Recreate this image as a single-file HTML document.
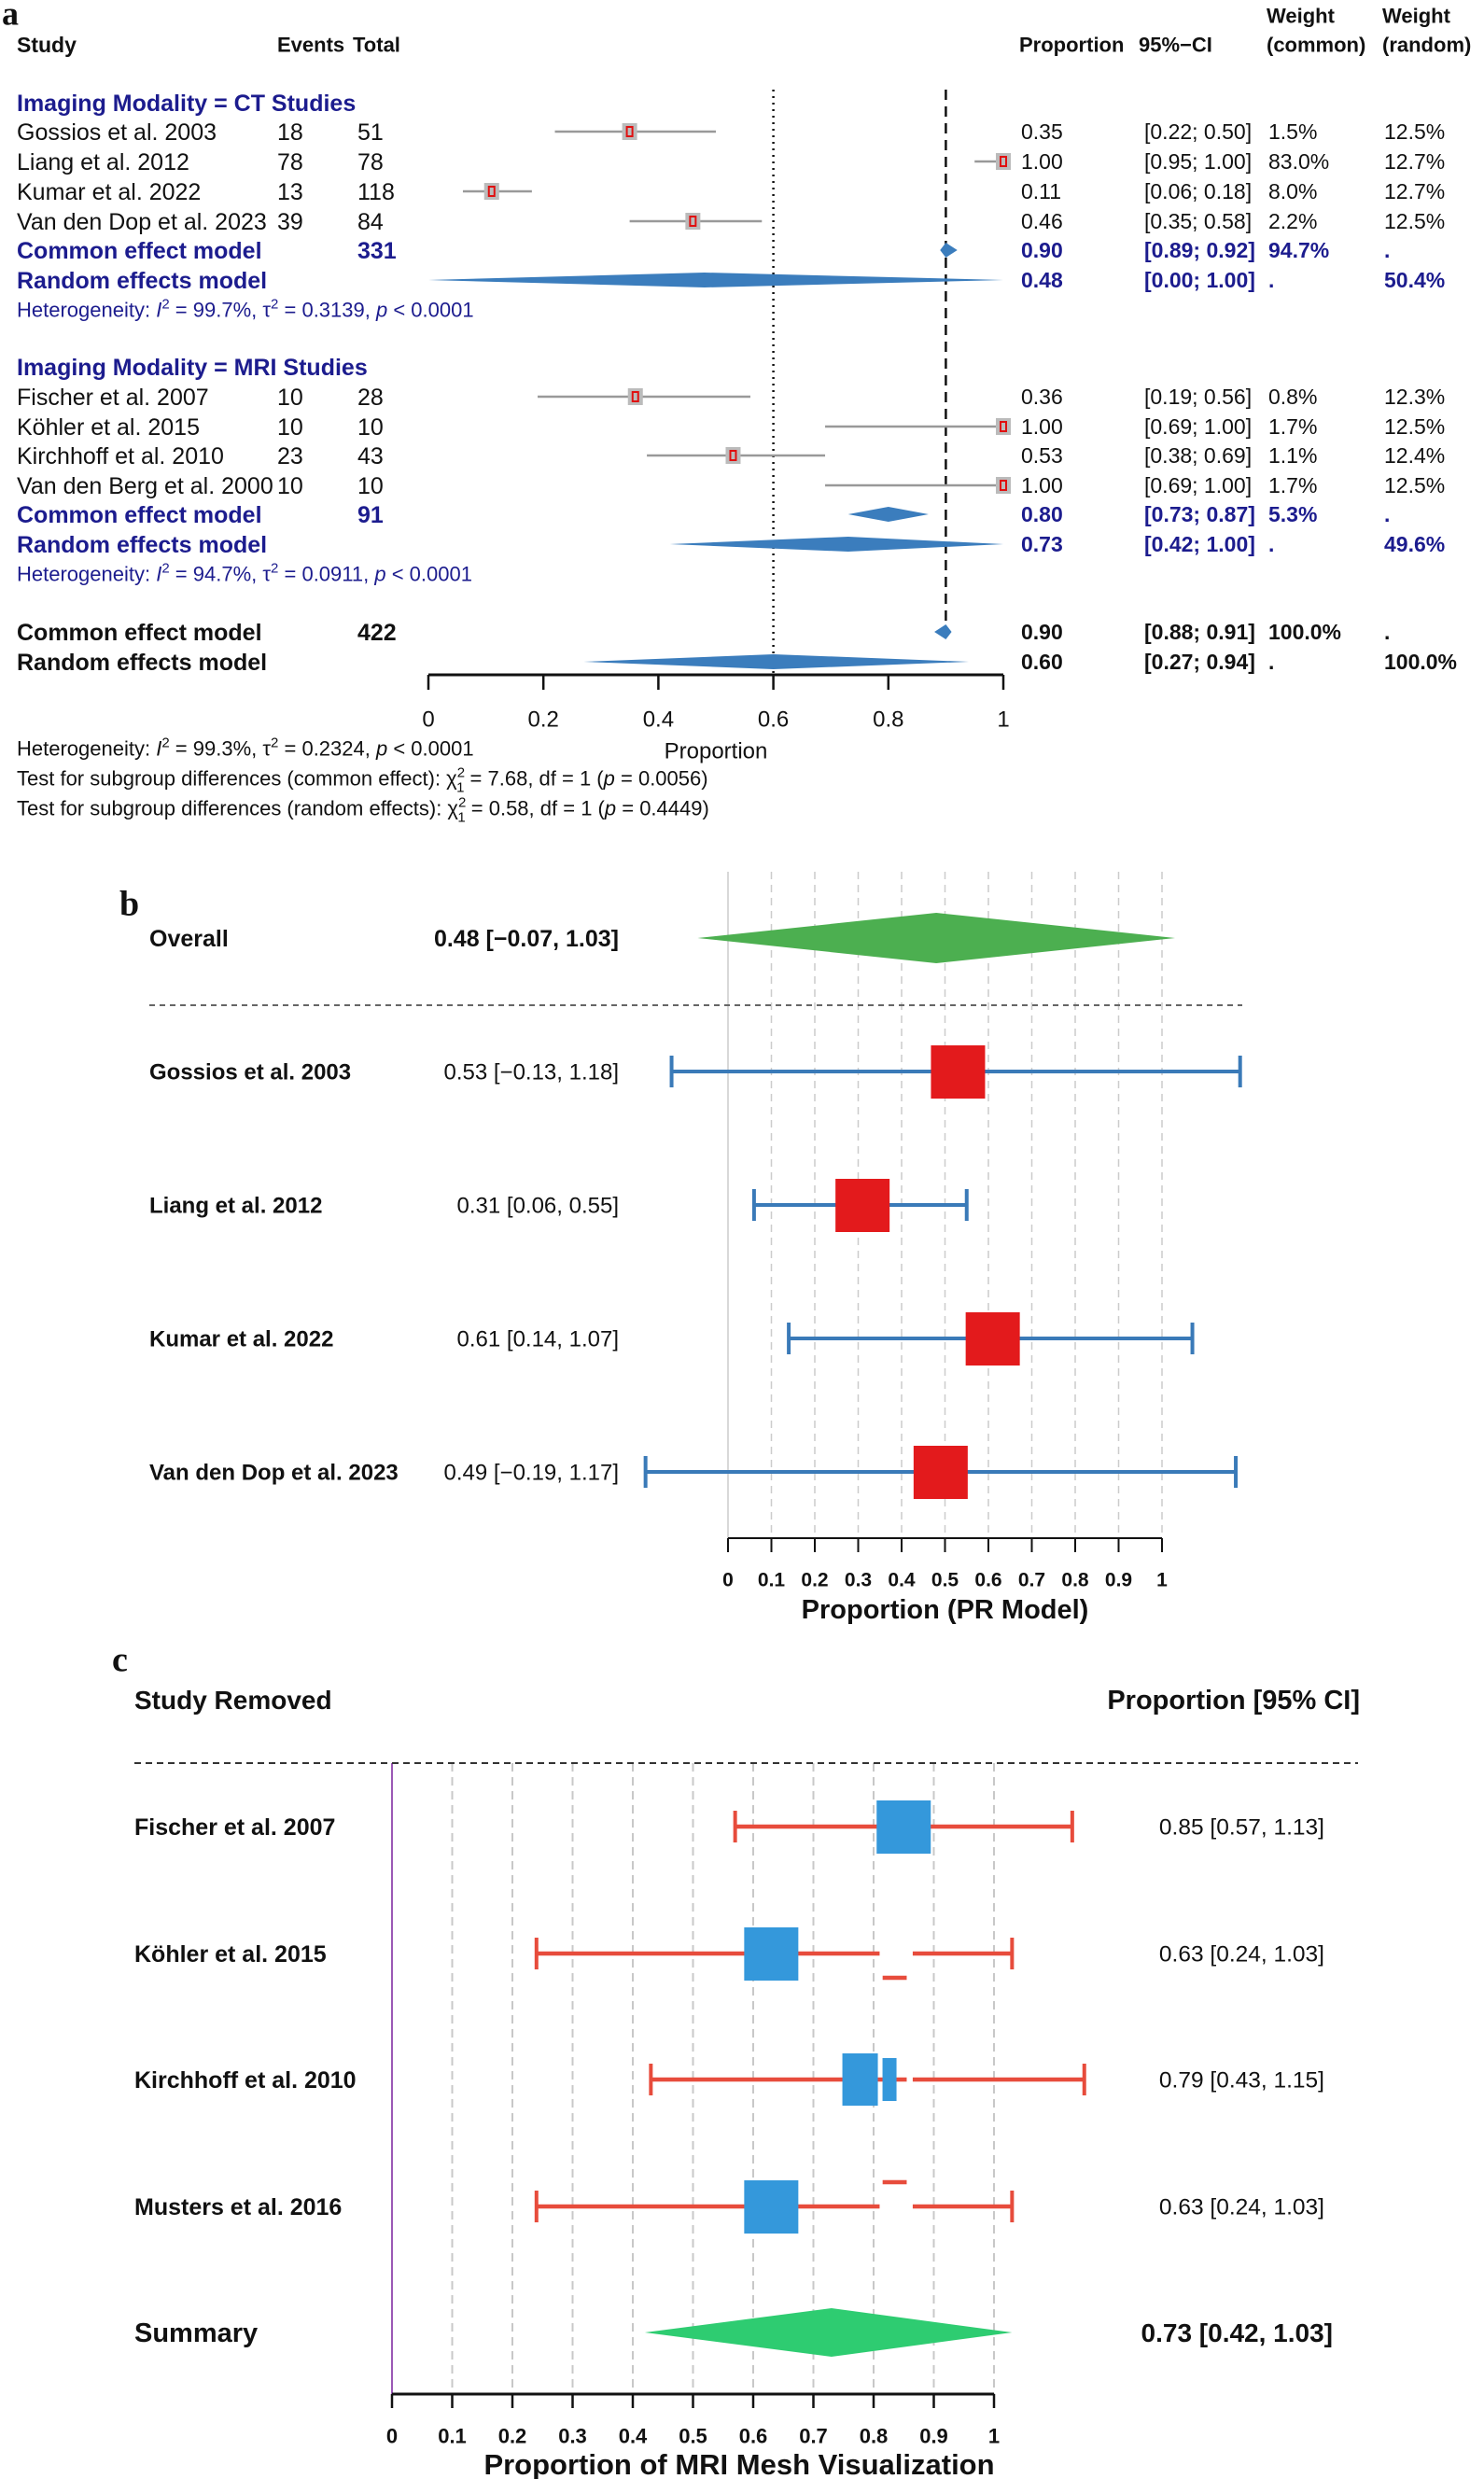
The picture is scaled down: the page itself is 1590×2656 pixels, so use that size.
<!DOCTYPE html>
<html><head><meta charset="utf-8"><style>
html,body{margin:0;padding:0;background:#fff}
svg{display:block;font-family:"Liberation Sans",Arial,sans-serif}
</style></head><body>
<svg id="fig" width="1590" height="2656" viewBox="0 0 1590 2656" xmlns="http://www.w3.org/2000/svg">
<rect width="1590" height="2656" fill="#fff"/>
<g id="pa"></g>
<g id="pb"></g>
<g id="pc"></g>
</svg>
<script>
// ---------- Panel A data ----------
const aLabels = ["Gossios et al. 2003","Liang et al. 2012","Kumar et al. 2022","Van den Dop et al. 2023","Fischer et al. 2007","Köhler et al. 2015","Kirchhoff et al. 2010","Van den Berg et al. 2000"];
const aEvents = [18,78,13,39,10,10,23,10];
const aTotals = [51,78,118,84,28,10,43,10];
const aEst = [0.35,1.00,0.11,0.46,0.36,1.00,0.53,1.00];
const aLo = [0.22,0.95,0.06,0.35,0.19,0.69,0.38,0.69];
const aHi = [0.50,1.00,0.18,0.58,0.56,1.00,0.69,1.00];
const aWc = ["1.5%","83.0%","8.0%","2.2%","0.8%","1.7%","1.1%","1.7%"];
const aWr = ["12.5%","12.7%","12.7%","12.5%","12.3%","12.5%","12.4%","12.5%"];
const aSumLabels = ["Common effect model","Random effects model","Common effect model","Random effects model","Common effect model","Random effects model"];
const aSumN = ["331","","91","","422",""];
const aSumEst = [0.90,0.48,0.80,0.73,0.90,0.60];
const aSumLo = [0.89,0.00,0.73,0.42,0.88,0.27];
const aSumHi = [0.92,1.00,0.87,1.00,0.91,0.94];
const aSumWc = ["94.7%",".","5.3%",".","100.0%","."];
const aSumWr = [".","50.4%",".","49.6%",".","100.0%"];
const aTicks = [0,0.2,0.4,0.6,0.8,1];
const aTickLabels = ["0","0.2","0.4","0.6","0.8","1"];
// ---------- Panel B data ----------
const bLabels = ["Gossios et al. 2003","Liang et al. 2012","Kumar et al. 2022","Van den Dop et al. 2023"];
const bEst = [0.53,0.31,0.61,0.49];
const bLo = [-0.13,0.06,0.14,-0.19];
const bHi = [1.18,0.55,1.07,1.17];
const bOverall = [0.48,-0.07,1.03];
const bTicks = [0,0.1,0.2,0.3,0.4,0.5,0.6,0.7,0.8,0.9,1];
const bTickLabels = ["0","0.1","0.2","0.3","0.4","0.5","0.6","0.7","0.8","0.9","1"];
// ---------- Panel C data ----------
const cLabels = ["Fischer et al. 2007","Köhler et al. 2015","Kirchhoff et al. 2010","Musters et al. 2016"];
const cEst = [0.85,0.63,0.79,0.63];
const cLo = [0.57,0.24,0.43,0.24];
const cHi = [1.13,1.03,1.15,1.03];
const cSummary = [0.73,0.42,1.03];
const cTicks = [0,0.1,0.2,0.3,0.4,0.5,0.6,0.7,0.8,0.9,1];
const cTickLabels = ["0","0.1","0.2","0.3","0.4","0.5","0.6","0.7","0.8","0.9","1"];

const NS="http://www.w3.org/2000/svg";
function mk(parent,tag,attrs,name){
  const el=document.createElementNS(NS,tag);
  for(const k in attrs) el.setAttribute(k,attrs[k]);
  
  
  parent.appendChild(el);return el;
}
function tx(parent,x,y,s,name,o){
  o=o||{};
  const el=mk(parent,'text',{x:x,y:y,'font-size':o.fs||23,fill:o.fill||'#111','font-weight':o.bold?'bold':'normal','text-anchor':o.anchor||'start',dy:'.35em'},name);
  if(o.family) el.setAttribute('font-family',o.family);
  el.textContent=s;return el;
}
function txh(parent,x,y,html,name,o){
  const el=tx(parent,x,y,'',name,o);el.innerHTML=html;return el;
}

// ================= PANEL A =================
(function(){
const g=document.getElementById('pa');
const xa=v=>459+v*616;
const NAVY='#1c1c8e', BLUE='#3b7dbd';
const LF=25;
tx(g,2,14,'a','panel-a-label',{fs:36,bold:true,family:'"Liberation Serif",serif'});
tx(g,18,48,'Study','header-study',{bold:true,fs:23});
tx(g,297,48,'Events','header-events',{bold:true,fs:22});
tx(g,378,48,'Total','header-total',{bold:true,fs:22});
tx(g,1092,48,'Proportion','header-proportion',{bold:true,fs:22});
tx(g,1220,48,'95%−CI','header-ci',{bold:true,fs:22});
tx(g,1357,17,'Weight','header-weight-common',{bold:true,fs:22});
tx(g,1357,48,'(common)','header-common',{bold:true,fs:22});
tx(g,1481,17,'Weight','header-weight-random',{bold:true,fs:22});
tx(g,1481,48,'(random)','header-random',{bold:true,fs:22});
mk(g,'line',{x1:xa(0.6),x2:xa(0.6),y1:96,y2:723,stroke:'#111','stroke-width':2.5,'stroke-dasharray':'2 5'},'reference-line-dotted');
mk(g,'line',{x1:xa(0.9),x2:xa(0.9),y1:96,y2:677,stroke:'#111','stroke-width':2.5,'stroke-dasharray':'11 7'},'common-effect-line-dashed');
tx(g,18,110,'Imaging Modality = CT Studies','subgroup-ct-header',{bold:true,fill:NAVY,fs:LF});
tx(g,18,393,'Imaging Modality = MRI Studies','subgroup-mri-header',{bold:true,fill:NAVY,fs:LF});
const rowY=[141,173,205,237,425,457,488,520];
aLabels.forEach((lab,i)=>{
  const y=rowY[i];
  tx(g,18,y,lab,'study-label',{fs:LF});
  tx(g,297,y,String(aEvents[i]),'events-value',{fs:LF});
  tx(g,383,y,String(aTotals[i]),'total-value',{fs:LF});
  mk(g,'line',{x1:xa(aLo[i]),x2:xa(aHi[i]),y1:y,y2:y,stroke:'#999','stroke-width':2.5},'ci-line');
  mk(g,'rect',{x:xa(aEst[i])-8,y:y-9,width:16,height:18,fill:'#bbb'},'study-box');
  mk(g,'rect',{x:xa(aEst[i])-3,y:y-5,width:6,height:10,fill:'none',stroke:'#e01010','stroke-width':2},'study-box-inner');
  tx(g,1094,y,aEst[i].toFixed(2),'proportion-value');
  tx(g,1226,y,'['+aLo[i].toFixed(2)+'; '+aHi[i].toFixed(2)+']','ci-value');
  tx(g,1359,y,aWc[i],'weight-common');
  tx(g,1483,y,aWr[i],'weight-random');
});
const sumY=[268,300,551,583,677,709];
aSumLabels.forEach((lab,i)=>{
  const y=sumY[i], col=i<4?NAVY:'#111';
  tx(g,18,y,lab,'summary-label',{bold:true,fill:col,fs:LF});
  if(aSumN[i]) tx(g,383,y,aSumN[i],'summary-total',{bold:true,fill:col,fs:LF});
  const h=8;
  mk(g,'polygon',{points:`${xa(aSumLo[i])},${y} ${xa(aSumEst[i])},${y-h} ${xa(aSumHi[i])},${y} ${xa(aSumEst[i])},${y+h}`,fill:BLUE},'summary-diamond');
  tx(g,1094,y,aSumEst[i].toFixed(2),'summary-proportion',{bold:true,fill:col});
  tx(g,1226,y,'['+aSumLo[i].toFixed(2)+'; '+aSumHi[i].toFixed(2)+']','summary-ci',{bold:true,fill:col});
  tx(g,1359,y,aSumWc[i],'summary-weight-common',{bold:true,fill:col});
  tx(g,1483,y,aSumWr[i],'summary-weight-random',{bold:true,fill:col});
});
const SF=22;
txh(g,18,332,'Heterogeneity: <tspan font-style="italic">I</tspan><tspan dy="-9" font-size="15">2</tspan><tspan dy="9"> = 99.7%, τ</tspan><tspan dy="-9" font-size="15">2</tspan><tspan dy="9"> = 0.3139, </tspan><tspan font-style="italic">p</tspan> &lt; 0.0001','heterogeneity-ct',{fs:SF,fill:NAVY});
txh(g,18,615,'Heterogeneity: <tspan font-style="italic">I</tspan><tspan dy="-9" font-size="15">2</tspan><tspan dy="9"> = 94.7%, τ</tspan><tspan dy="-9" font-size="15">2</tspan><tspan dy="9"> = 0.0911, </tspan><tspan font-style="italic">p</tspan> &lt; 0.0001','heterogeneity-mri',{fs:SF,fill:NAVY});
mk(g,'line',{x1:xa(0),x2:xa(1),y1:723,y2:723,stroke:'#111','stroke-width':3},'x-axis-line');
aTicks.forEach((v,i)=>{
  mk(g,'line',{x1:xa(v),x2:xa(v),y1:723,y2:739,stroke:'#111','stroke-width':2.5},'x-axis-tick');
  tx(g,xa(v),770,aTickLabels[i],'x-tick-label',{anchor:'middle',fs:24});
});
tx(g,767,804,'Proportion','x-axis-title',{anchor:'middle',fs:24});
txh(g,18,802,'Heterogeneity: <tspan font-style="italic">I</tspan><tspan dy="-9" font-size="15">2</tspan><tspan dy="9"> = 99.3%, τ</tspan><tspan dy="-9" font-size="15">2</tspan><tspan dy="9"> = 0.2324, </tspan><tspan font-style="italic">p</tspan> &lt; 0.0001','heterogeneity-overall',{fs:SF});
txh(g,18,834,'Test for subgroup differences (common effect): χ<tspan dy="-9" font-size="15">2</tspan><tspan dx="-9" dy="16" font-size="15">1</tspan><tspan dy="-7"> = 7.68, df = 1 (</tspan><tspan font-style="italic">p</tspan> = 0.0056)','subgroup-test-common',{fs:SF});
txh(g,18,866,'Test for subgroup differences (random effects): χ<tspan dy="-9" font-size="15">2</tspan><tspan dx="-9" dy="16" font-size="15">1</tspan><tspan dy="-7"> = 0.58, df = 1 (</tspan><tspan font-style="italic">p</tspan> = 0.4449)','subgroup-test-random',{fs:SF});
})();

// ================= PANEL B =================
(function(){
const g=document.getElementById('pb');
const xb=v=>780+v*465;
const BLUE='#3a7ab8', RED='#e31a1c', GREEN='#4caf50';
tx(g,128,967,'b','panel-b-label',{fs:38,bold:true,family:'"Liberation Serif",serif'});
bTicks.forEach((v,i)=>{
  mk(g,'line',{x1:xb(v),x2:xb(v),y1:934,y2:1648,stroke:'#ccc','stroke-width':1.5,'stroke-dasharray':i===0?'none':'8 6'},'grid-line');
});
tx(g,160,1005,'Overall','overall-label',{bold:true,fs:25});
tx(g,663,1005,'0.48 [−0.07, 1.03]','overall-value',{bold:true,anchor:'end',fs:25});
mk(g,'polygon',{points:`${xb(bOverall[1])},1005 ${xb(bOverall[0])},978 ${xb(bOverall[2])},1005 ${xb(bOverall[0])},1032`,fill:GREEN},'overall-diamond');
mk(g,'line',{x1:160,x2:1331,y1:1077,y2:1077,stroke:'#666','stroke-width':2,'stroke-dasharray':'6 5'},'separator-line');
const ys=[1148,1291,1434,1577];
bLabels.forEach((lab,i)=>{
  const y=ys[i];
  tx(g,160,y,lab,'study-label',{bold:true,fs:24});
  tx(g,663,y,bEst[i].toFixed(2)+' ['+(bLo[i]<0?'−':'')+Math.abs(bLo[i]).toFixed(2)+', '+bHi[i].toFixed(2)+']','study-value',{anchor:'end',fs:24});
  mk(g,'line',{x1:xb(bLo[i]),x2:xb(bHi[i]),y1:y,y2:y,stroke:BLUE,'stroke-width':4},'ci-line');
  mk(g,'line',{x1:xb(bLo[i]),x2:xb(bLo[i]),y1:y-17,y2:y+17,stroke:BLUE,'stroke-width':4},'ci-cap-low');
  mk(g,'line',{x1:xb(bHi[i]),x2:xb(bHi[i]),y1:y-17,y2:y+17,stroke:BLUE,'stroke-width':4},'ci-cap-high');
  mk(g,'rect',{x:xb(bEst[i])-29,y:y-28,width:58,height:57,fill:RED},'study-box');
});
mk(g,'line',{x1:xb(0),x2:xb(1),y1:1648,y2:1648,stroke:'#111','stroke-width':2},'x-axis-line');
bTicks.forEach((v,i)=>{
  mk(g,'line',{x1:xb(v),x2:xb(v),y1:1648,y2:1663,stroke:'#111','stroke-width':2},'x-axis-tick');
  tx(g,xb(v),1692,bTickLabels[i],'x-tick-label',{anchor:'middle',bold:true,fs:21});
});
tx(g,xb(0.5),1724,'Proportion (PR Model)','x-axis-title',{anchor:'middle',bold:true,fs:29});
})();

// ================= PANEL C =================
(function(){
const g=document.getElementById('pc');
const xc=v=>420+v*645;
const BLUE='#3498db', RED='#e74c3c', GREEN='#2ecc71';
tx(g,120,1777,'c','panel-c-label',{fs:38,bold:true,family:'"Liberation Serif",serif'});
tx(g,144,1821,'Study Removed','header-study-removed',{bold:true,fs:28});
tx(g,1457,1821,'Proportion [95% CI]','header-proportion-ci',{bold:true,fs:29,anchor:'end'});
cTicks.forEach((v,i)=>{ if(i>0)
  mk(g,'line',{x1:xc(v),x2:xc(v),y1:1889,y2:2565,stroke:'#c8c8c8','stroke-width':2,'stroke-dasharray':'9 6'},'grid-line');
});
mk(g,'line',{x1:xc(0),x2:xc(0),y1:1889,y2:2565,stroke:'#9b59b6','stroke-width':2},'null-line');
mk(g,'line',{x1:144,x2:1455,y1:1889,y2:1889,stroke:'#333','stroke-width':2,'stroke-dasharray':'7 5'},'separator-line');
const ys=[1957,2093,2228,2364];
cLabels.forEach((lab,i)=>{
  const y=ys[i];
  tx(g,144,y,lab,'study-label',{bold:true,fs:25});
  tx(g,1419,y,cEst[i].toFixed(2)+' ['+cLo[i].toFixed(2)+', '+cHi[i].toFixed(2)+']','study-value',{anchor:'end',fs:24.5});
  const gap=(i===1||i===3);
  if(gap){
    mk(g,'line',{x1:xc(cLo[i]),x2:xc(0.81),y1:y,y2:y,stroke:RED,'stroke-width':4.5},'ci-line');
    mk(g,'line',{x1:xc(0.865),x2:xc(cHi[i]),y1:y,y2:y,stroke:RED,'stroke-width':4.5},'ci-line');
    const dy=i===1?26:-26;
    mk(g,'line',{x1:xc(0.815),x2:xc(0.855),y1:y+dy,y2:y+dy,stroke:RED,'stroke-width':4.5},'ci-fragment');
  } else if(i===2){
    mk(g,'line',{x1:xc(cLo[i]),x2:xc(0.855),y1:y,y2:y,stroke:RED,'stroke-width':4.5},'ci-line');
    mk(g,'line',{x1:xc(0.865),x2:xc(cHi[i]),y1:y,y2:y,stroke:RED,'stroke-width':4.5},'ci-line');
  } else {
    mk(g,'line',{x1:xc(cLo[i]),x2:xc(cHi[i]),y1:y,y2:y,stroke:RED,'stroke-width':4.5},'ci-line');
  }
  mk(g,'line',{x1:xc(cLo[i]),x2:xc(cLo[i]),y1:y-17,y2:y+17,stroke:RED,'stroke-width':4},'ci-cap-low');
  mk(g,'line',{x1:xc(cHi[i]),x2:xc(cHi[i]),y1:y-17,y2:y+17,stroke:RED,'stroke-width':4},'ci-cap-high');
  if(i===2){
    mk(g,'rect',{x:xc(cEst[i])-27,y:y-28,width:38,height:56,fill:BLUE},'study-box');
    mk(g,'rect',{x:xc(cEst[i])+16,y:y-23,width:15,height:46,fill:BLUE},'study-box-fragment');
  } else {
    mk(g,'rect',{x:xc(cEst[i])-29,y:y-28,width:58,height:57,fill:BLUE},'study-box');
  }
});
tx(g,144,2499,'Summary','summary-label',{bold:true,fs:29});
tx(g,1428,2499,'0.73 [0.42, 1.03]','summary-value',{bold:true,fs:28,anchor:'end'});
mk(g,'polygon',{points:`${xc(cSummary[1])},2499 ${xc(cSummary[0])},2473 ${xc(cSummary[2])},2499 ${xc(cSummary[0])},2525`,fill:GREEN},'summary-diamond');
mk(g,'line',{x1:xc(0),x2:xc(1),y1:2565,y2:2565,stroke:'#111','stroke-width':3},'x-axis-line');
cTicks.forEach((v,i)=>{
  mk(g,'line',{x1:xc(v),x2:xc(v),y1:2565,y2:2580,stroke:'#111','stroke-width':2.5},'x-axis-tick');
  tx(g,xc(v),2610,cTickLabels[i],'x-tick-label',{anchor:'middle',bold:true,fs:22});
});
tx(g,792,2640,'Proportion of MRI Mesh Visualization','x-axis-title',{anchor:'middle',bold:true,fs:31});
})();
</script>
</body></html>
